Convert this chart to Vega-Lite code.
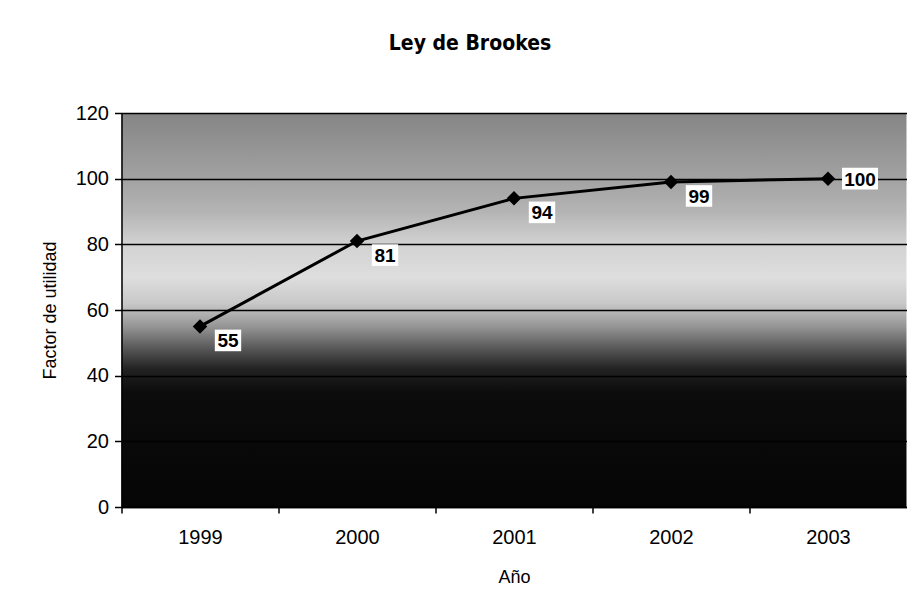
{
  "$schema": "https://vega.github.io/schema/vega-lite/v6.json",
  "width": 785,
  "height": 394,
  "autosize": {"type": "none"},
  "padding": {"left": 121.5, "top": 113, "right": 14.5, "bottom": 107},
  "background": "white",
  "title": {
    "text": "Ley de Brookes",
    "font": "DejaVu Sans Condensed, DejaVu Sans",
    "fontSize": 21,
    "fontWeight": "bold",
    "color": "black",
    "anchor": "middle",
    "frame": "group",
    "dx": -44,
    "offset": 49
  },
  "data": {
    "values": [
      {"anio": "1999", "valor": 55},
      {"anio": "2000", "valor": 81},
      {"anio": "2001", "valor": 94},
      {"anio": "2002", "valor": 99},
      {"anio": "2003", "valor": 100}
    ]
  },
  "config": {
    "view": {"stroke": null},
    "axis": {
      "labelFont": "Liberation Sans",
      "titleFont": "Liberation Sans",
      "labelColor": "black",
      "titleColor": "black",
      "domainColor": "black",
      "tickColor": "black",
      "domainWidth": 1.5,
      "tickWidth": 1.5
    }
  },
  "view": {
    "stroke": null,
    "fill": {
      "gradient": "linear",
      "x1": 0, "y1": 0, "x2": 0, "y2": 1,
      "stops": [
        {"offset": 0, "color": "#858585"},
        {"offset": 0.167, "color": "#a2a2a2"},
        {"offset": 0.25, "color": "#b4b4b4"},
        {"offset": 0.333, "color": "#d2d2d2"},
        {"offset": 0.417, "color": "#dedede"},
        {"offset": 0.483, "color": "#c8c8c8"},
        {"offset": 0.542, "color": "#959595"},
        {"offset": 0.6, "color": "#555555"},
        {"offset": 0.65, "color": "#222222"},
        {"offset": 0.708, "color": "#0c0c0c"},
        {"offset": 1, "color": "#050505"}
      ]
    }
  },
  "encoding": {
    "x": {
      "field": "anio",
      "type": "ordinal",
      "scale": {"type": "point", "padding": 0.5},
      "axis": {
        "title": "Año",
        "titleFontSize": 18,
        "titleFontWeight": "normal",
        "titlePadding": 21,
        "labelFontSize": 20,
        "labelAngle": 0,
        "labelPadding": 14,
        "tickSize": 6,
        "tickOffset": -78.5,
        "labelOffset": 78.5,
        "grid": false
      }
    },
    "y": {
      "field": "valor",
      "type": "quantitative",
      "scale": {"domain": [0, 120], "nice": false},
      "axis": {
        "title": "Factor de utilidad",
        "titleFontSize": 18,
        "titleFontWeight": "normal",
        "titlePadding": 16,
        "labelFontSize": 20,
        "labelPadding": 6,
        "tickSize": 7,
        "values": [0, 20, 40, 60, 80, 100, 120],
        "grid": true,
        "gridColor": "black",
        "gridWidth": 1.5,
        "gridOpacity": 1
      }
    }
  },
  "layer": [
    {"mark": {"type": "line", "color": "black", "strokeWidth": 3}},
    {"mark": {"type": "point", "shape": "diamond", "filled": true, "color": "black", "opacity": 1, "size": 210}},
    {
      "transform": [{"filter": "datum.valor < 100"}],
      "mark": {"type": "point", "shape": "M-1.1,-0.9H1.1V0.9H-1.1Z", "filled": true, "color": "white", "opacity": 1, "size": 576, "xOffset": 28, "yOffset": 14}
    },
    {
      "transform": [{"filter": "datum.valor >= 100"}],
      "mark": {"type": "point", "shape": "M-1.5,-0.9H1.5V0.9H-1.5Z", "filled": true, "color": "white", "opacity": 1, "size": 576, "xOffset": 32, "yOffset": 0}
    },
    {
      "transform": [{"filter": "datum.valor < 100"}],
      "mark": {"type": "text", "font": "Liberation Sans", "fontSize": 19, "fontWeight": "bold", "color": "black", "dx": 28, "dy": 15, "baseline": "middle", "align": "center"},
      "encoding": {"text": {"field": "valor", "type": "quantitative"}}
    },
    {
      "transform": [{"filter": "datum.valor >= 100"}],
      "mark": {"type": "text", "font": "Liberation Sans", "fontSize": 19, "fontWeight": "bold", "color": "black", "dx": 32, "dy": 1, "baseline": "middle", "align": "center"},
      "encoding": {"text": {"field": "valor", "type": "quantitative"}}
    }
  ]
}
